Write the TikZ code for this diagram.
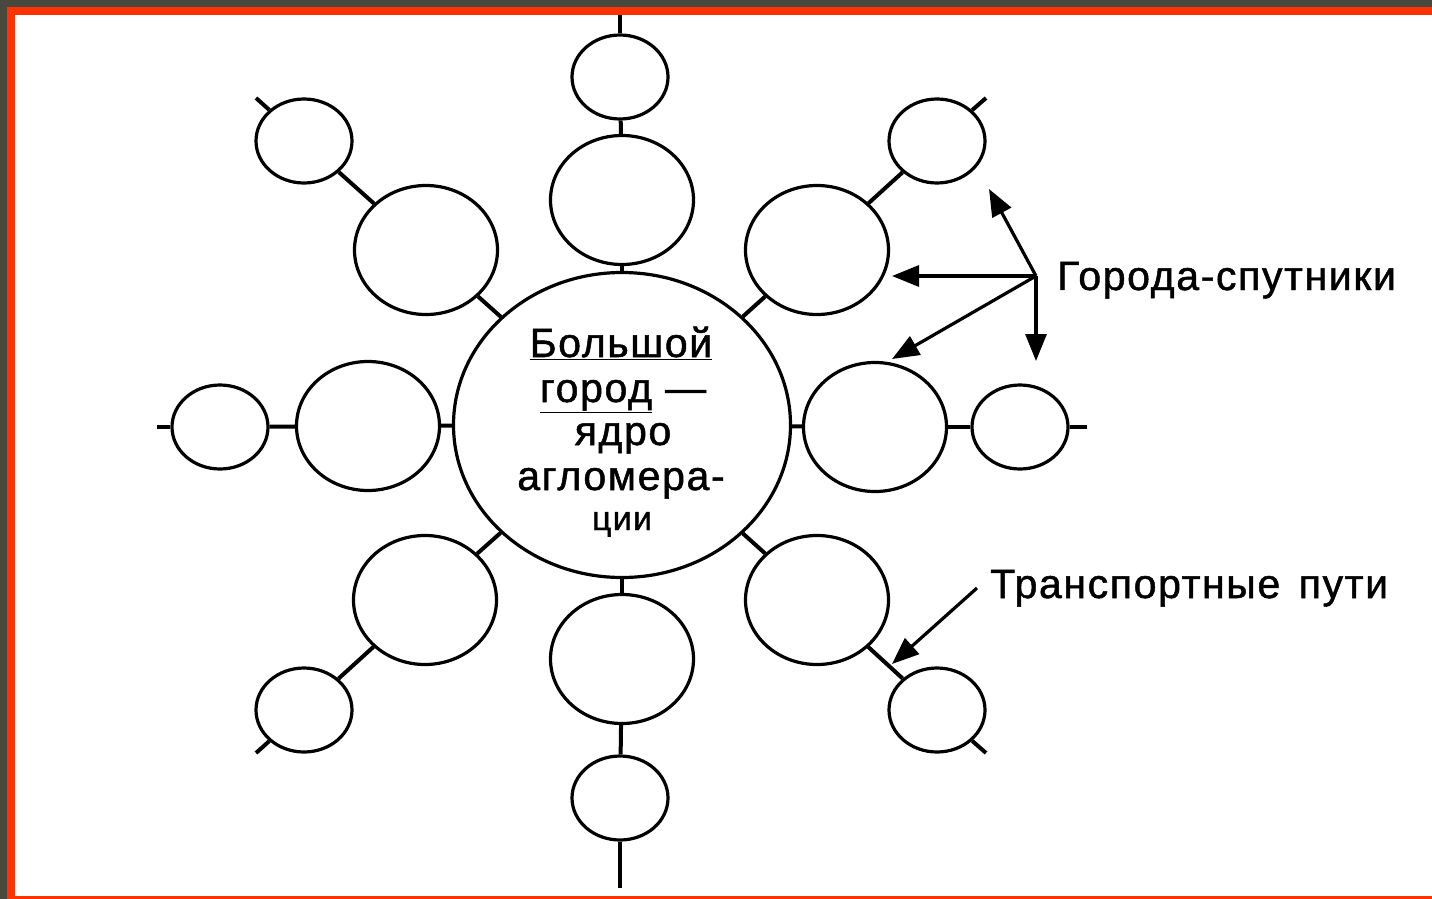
\documentclass[tikz,border=0pt]{standalone}
\usepackage{fontspec}
\setmainfont{Liberation Sans}[LetterSpace=4, FakeBold=1.2]
\usetikzlibrary{shapes.geometric,arrows.meta}
\definecolor{framered}{RGB}{255,51,0}
\definecolor{bgdark}{RGB}{72,72,62}
\tikzset{
  city/.style={ellipse, draw, line width=3.2pt, inner sep=0pt},
  bigcity/.style={city, minimum width=337pt, minimum height=305pt},
  midcity/.style={city, minimum width=143pt, minimum height=129pt},
  smallcity/.style={city, minimum width=96pt, minimum height=84pt},
  road/.style={line width=4pt},
  ptr/.style={line width=3.2pt, -{Triangle[length=27pt,width=21pt]}},
  lbl/.style={font=\fontsize{41}{44}\selectfont, inner sep=0pt},
}
\begin{document}
\begin{tikzpicture}[x=1pt,y=-1pt]
\useasboundingbox (0,0) rectangle (1432,899);
\fill[bgdark] (0,0) rectangle (1432,899);
\fill[framered] (7,7) rectangle (1432,899);
\fill[white] (15,15) rectangle (1432,896);

% central city
\node[bigcity] (C) at (622,425) {};
\node[lbl, anchor=base] (t1) at (621,357) {\underline{Большой}};
\node[lbl, anchor=base] (t2) at (623,402) {\underline{город} —};
\node[lbl, anchor=base] (t3) at (623,445) {ядро};
\node[lbl, anchor=base] (t4) at (621,490) {агломера-};
\node[lbl, anchor=base, font=\fontsize{34}{36}\selectfont] (t5) at (622,530) {ции};

% satellites: medium and small, with stub ends
\node[midcity] (mT) at (622,200) {};
\node[smallcity] (sT) at (620,77) {};
\coordinate (eT) at (620,15);
\node[midcity] (mB) at (622,659) {};
\node[smallcity] (sB) at (620,798) {};
\coordinate (eB) at (620,888);
\node[midcity] (mL) at (368,426) {};
\node[smallcity] (sL) at (220,427) {};
\coordinate (eL) at (157,427);
\node[midcity] (mR) at (875,427) {};
\node[smallcity] (sR) at (1020,427) {};
\coordinate (eR) at (1087,427);
\node[midcity] (mUL) at (426,250) {};
\node[smallcity] (sUL) at (304,141) {};
\coordinate (eUL) at (256,98);
\node[midcity] (mUR) at (817,250) {};
\node[smallcity] (sUR) at (937,141) {};
\coordinate (eUR) at (986,98);
\node[midcity] (mLL) at (425,600) {};
\node[smallcity] (sLL) at (304,710) {};
\coordinate (eLL) at (256,753);
\node[midcity] (mLR) at (817,600) {};
\node[smallcity] (sLR) at (937,710) {};
\coordinate (eLR) at (986,753);

\foreach \d in {T,B,L,R,UL,UR,LL,LR}{
  \draw[road] (C) -- (m\d);
  \draw[road] (m\d) -- (s\d);
  \draw[road] (s\d) -- (e\d);
}

% labels and pointers
\node[lbl, anchor=base west] (sat) at (1057,290) {Города-спутники};
\coordinate (o) at (1036,276);
\coordinate (p1) at (989,189);
\coordinate (p2) at (892,276);
\coordinate (p3) at (892,359);
\coordinate (p4) at (1036,361);
\draw[ptr] (o) -- (p1);
\draw[ptr] (o) -- (p2);
\draw[ptr] (o) -- (p3);
\draw[ptr] (o) -- (p4);

\node[lbl, anchor=base west] (tr) at (990,598) {Транспортные\hspace{0.45em}пути};
\coordinate (q0) at (977,588);
\coordinate (q1) at (892,664);
\draw[ptr] (q0) -- (q1);
\end{tikzpicture}
\end{document}
